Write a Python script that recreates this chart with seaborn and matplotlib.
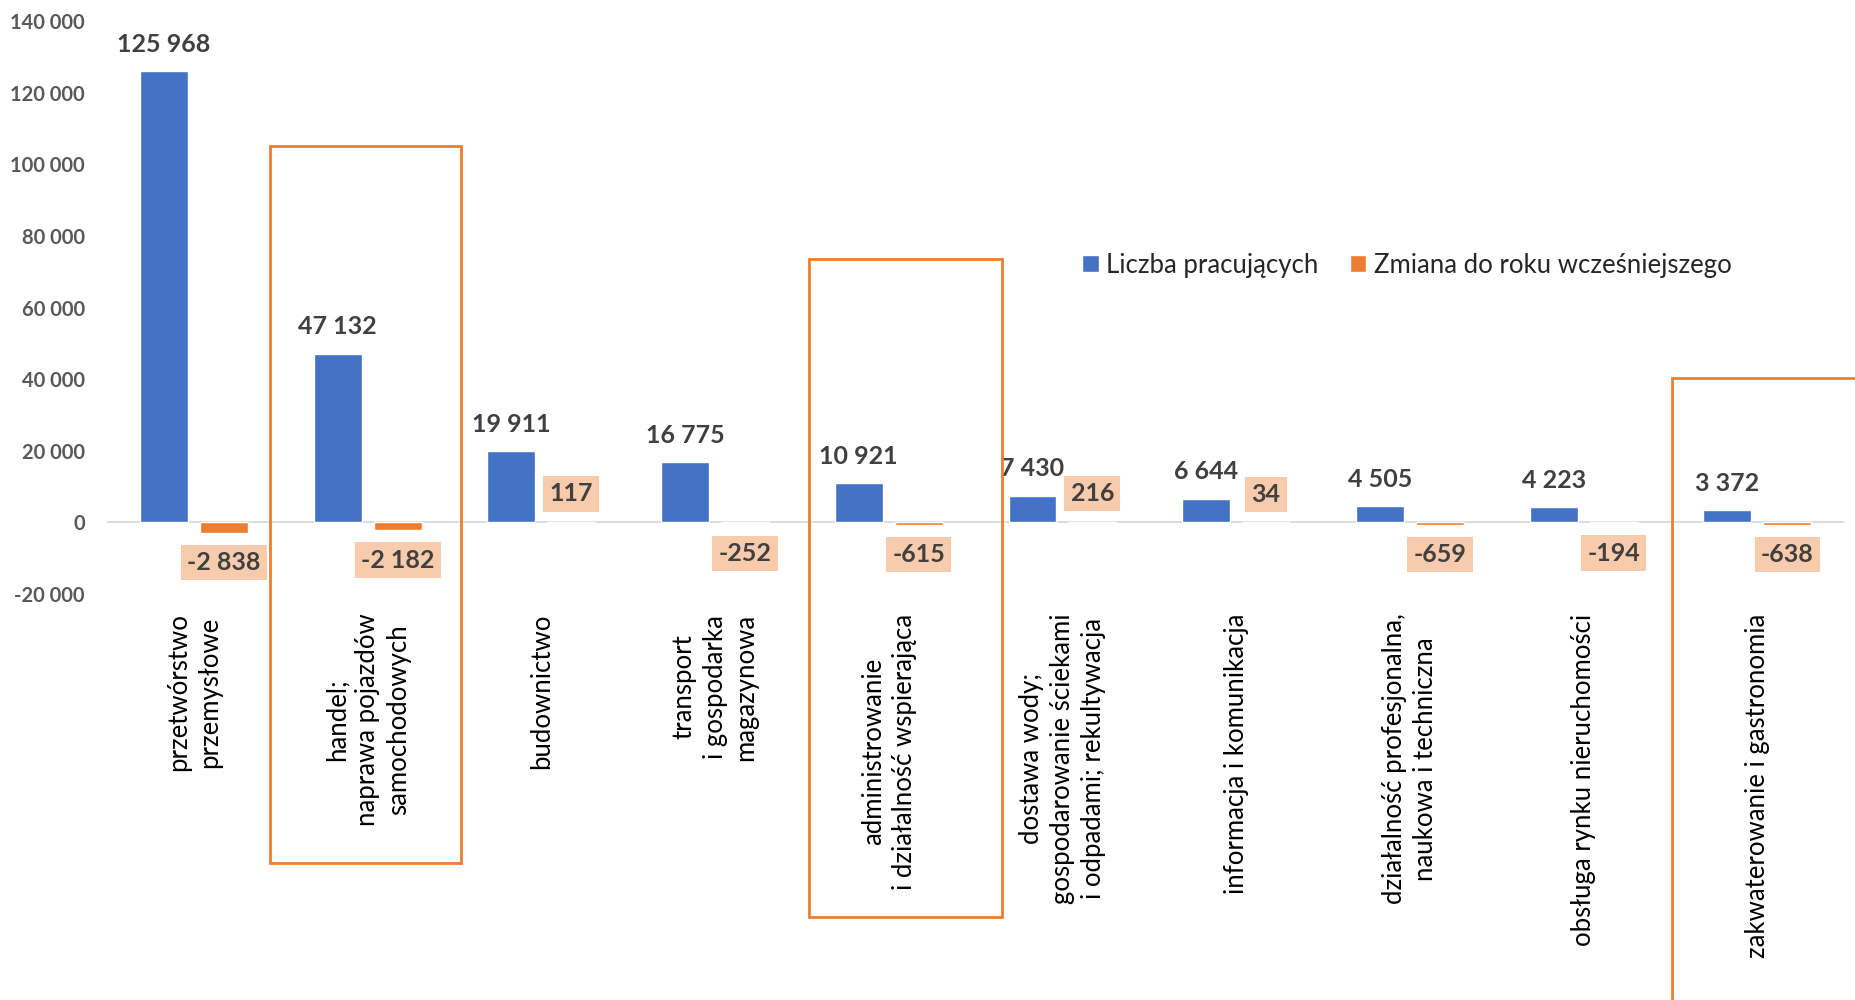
import matplotlib
matplotlib.use("Agg")
import matplotlib.pyplot as plt
import matplotlib.transforms as mtransforms
from matplotlib.font_manager import FontProperties
from matplotlib.patches import Rectangle
import pandas as pd
import seaborn as sns

# Dane
kategorie = [
    "przetwórstwo\nprzemysłowe",
    "handel;\nnaprawa pojazdów\nsamochodowych",
    "budownictwo",
    "transport\ni gospodarka\nmagazynowa",
    "administrowanie\ni działalność wspierająca",
    "dostawa wody;\ngospodarowanie ściekami\ni odpadami; rekultywacja",
    "informacja i komunikacja",
    "działalność profesjonalna,\nnaukowa i techniczna",
    "obsługa rynku nieruchomości",
    "zakwaterowanie i gastronomia",
]
pracujacy = [125968, 47132, 19911, 16775, 10921, 7430, 6644, 4505, 4223, 3372]
zmiana = [-2838, -2182, 117, -252, -615, 216, 34, -659, -194, -638]
serie = ["Liczba pracujących", "Zmiana do roku wcześniejszego"]
y_ticks = list(range(-20000, 140001, 20000))

# ramki wokół wyróżnionych branż: (lewa, prawa) w jednostkach osi kategorii,
# (góra, dół) w ułamku wysokości rysunku
ramki = [
    (0.44, 1.54, 0.854, 0.137),
    (3.54, 4.65, 0.741, 0.083),
    (8.51, 10.2, 0.622, -0.02),
]

NIEBIESKI = "#4472C4"
POMARANCZ = "#ED7D31"
TLO_ETYKIETY = "#F8CBAD"
SZARY_TEKST = "#404040"

df = pd.DataFrame({
    "kategoria": kategorie * 2,
    "wartosc": pracujacy + zmiana,
    "seria": [serie[0]] * len(kategorie) + [serie[1]] * len(kategorie),
})

sns.set_style("white")
plt.rcParams["font.family"] = ["Lato", "DejaVu Sans"]


def fmt(v):
    return f"{int(v):,}".replace(",", " ")


fig = plt.figure(figsize=(18.56, 10), dpi=100)
ax = fig.add_axes([0.0577, 0.406, 0.9359, 0.573])

sns.barplot(data=df, x="kategoria", y="wartosc", hue="seria", hue_order=serie,
            palette=[NIEBIESKI, POMARANCZ], width=0.69, gap=0.2,
            saturation=1, ax=ax, legend=True)

ax.set_xlim(-0.5, len(kategorie) - 0.5)
ax.set_ylim(-20000, 140000)
ax.axhline(0, color="#D9D9D9", lw=1.3, zorder=0.5)
sns.despine(ax=ax, left=True, bottom=True)
ax.set_xlabel("")
ax.set_ylabel("")

# oś Y: pogrubione szare liczby
ax.set_yticks(y_ticks)
ax.set_yticklabels([fmt(v) for v in y_ticks],
                   fontproperties=FontProperties(family="Lato", weight="bold", size=14.5),
                   color="#595959")
ax.tick_params(axis="y", length=0, pad=16)

ax.tick_params(axis="x", length=0, pad=14)
ax.set_xticks(range(len(kategorie)))
ax.set_xticklabels(kategorie, rotation=90, ha="center", va="top",
                   multialignment="center", linespacing=1.3,
                   fontsize=18.5, color="black")

# etykiety wartości
pracujacy_bary, zmiana_bary = ax.containers[0], ax.containers[1]
for p in pracujacy_bary:
    x = p.get_x() + p.get_width() / 2
    h = p.get_height()
    ax.annotate(fmt(h), (x, h), xytext=(0, 27), textcoords="offset pixels",
                ha="center", va="center", fontsize=18, fontweight="bold",
                color=SZARY_TEKST)
for p in zmiana_bary:
    x = p.get_x() + p.get_width() / 2
    h = p.get_height()
    dy = 28 if h > 0 else -30
    ax.annotate(fmt(h), (x, h), xytext=(0, dy), textcoords="offset pixels",
                ha="center", va="center", fontsize=18, fontweight="bold",
                color=SZARY_TEKST,
                bbox=dict(boxstyle="square,pad=0.25", fc=TLO_ETYKIETY, ec="none"))

# legenda
handles, labels = ax.get_legend_handles_labels()
ax.legend(handles, labels, loc="center left", bbox_to_anchor=(0.583, 0.735),
          bbox_transform=fig.transFigure, ncol=2, frameon=False,
          fontsize=18.5, handlelength=0.65, handleheight=0.65,
          handletextpad=0.3, columnspacing=1.2, borderpad=0, borderaxespad=0)

# ramki
trans = mtransforms.blended_transform_factory(ax.transData, fig.transFigure)
for lewa, prawa, gora, dol in ramki:
    fig.add_artist(Rectangle((lewa, dol), prawa - lewa, gora - dol, transform=trans,
                             fill=False, ec=POMARANCZ, lw=2, clip_on=False))

fig.savefig("out.png", dpi=100)
